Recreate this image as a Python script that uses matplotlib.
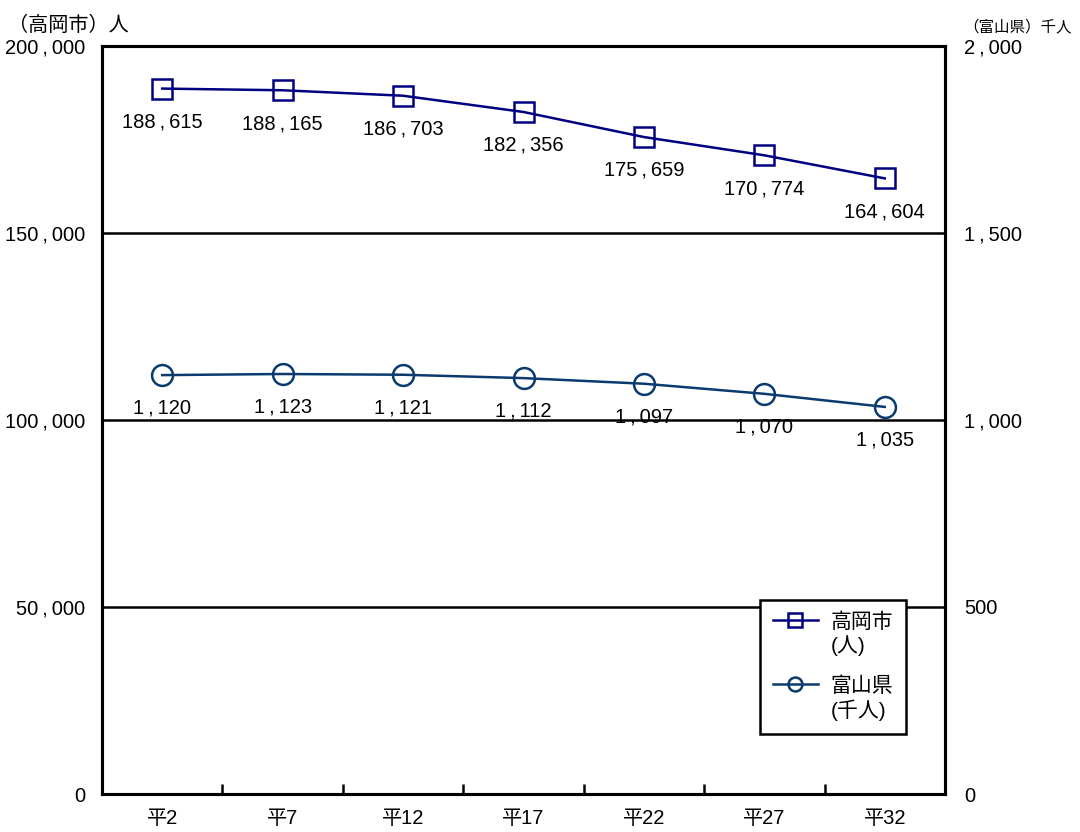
import matplotlib
matplotlib.use("Agg")
import matplotlib.pyplot as plt
from matplotlib.legend_handler import HandlerLine2D
import numpy as np

categories = ["平2", "平7", "平12", "平17", "平22", "平27", "平32"]
takaoka = [188615, 188165, 186703, 182356, 175659, 170774, 164604]
toyama = [1120, 1123, 1121, 1112, 1097, 1070, 1035]
left_ticks = [0, 50000, 100000, 150000, 200000]
right_ticks = [0, 500, 1000, 1500, 2000]

FONT = ['Liberation Sans', 'Noto Sans CJK JP', 'DejaVu Sans']
plt.rcParams['font.family'] = FONT

C1 = '#000080'
C2 = '#0a3a6e'
FS = 14.5

def fmt(v):
    return f"{v:,}".replace(",", "\u2009,\u2009")

fig = plt.figure(figsize=(10.8, 8.32), dpi=100)
ax = fig.add_axes([102/1080, 1-794/832, (945-102)/1080, (794-46)/832])
ax2 = ax.twinx()

x = np.arange(len(categories))
ax.set_xlim(-0.5, len(categories) - 0.5)
ax.set_ylim(0, 200000)
ax2.set_ylim(0, 2000)

for y in left_ticks[1:-1]:
    ax.axhline(y, color='black', lw=1.8, zorder=1)

l1, = ax.plot(x, takaoka, color=C1, lw=1.8, marker='s', ms=14, mfc='none',
              mec=C1, mew=1.8, zorder=3, label="高岡市\n(人)")
l2, = ax2.plot(x, toyama, color=C2, lw=1.8, marker='o', ms=15, mfc='none',
               mec=C2, mew=1.8, zorder=3, label="富山県\n(千人)")

for xi, v in zip(x, takaoka):
    ax.annotate(fmt(v), (xi, v), xytext=(0, -24), textcoords='offset points',
                ha='center', va='center', fontsize=FS)
for xi, v in zip(x, toyama):
    ax2.annotate(fmt(v), (xi, v), xytext=(0, -24), textcoords='offset points',
                 ha='center', va='center', fontsize=FS)

ax.set_yticks(left_ticks)
ax.set_yticklabels([fmt(v) for v in left_ticks], fontsize=FS)
ax2.set_yticks(right_ticks)
ax2.set_yticklabels([fmt(v) for v in right_ticks], fontsize=FS)
ax.tick_params(axis='y', length=0, pad=12)
ax2.tick_params(axis='y', length=0, pad=14)

ax.set_xticks(x)
ax.set_xticklabels(categories, fontsize=FS)
ax.set_xticks(np.arange(0.5, len(categories) - 1, 1), minor=True)
ax.tick_params(axis='x', which='major', length=0, pad=11)
ax.tick_params(axis='x', which='minor', length=7, width=1.8, direction='in')

for a in (ax, ax2):
    for s in a.spines.values():
        s.set_linewidth(2.2)
        s.set_color('black')

fig.text(8/1080, 1-25/832, "（高岡市）人", fontsize=14.5, ha='left', va='center')
fig.text(963/1080, 1-27/832, "（富山県）千人", fontsize=11.2, ha='left', va='center')

LSP = 1.2


class TopHandler(HandlerLine2D):
    def create_artists(self, legend, orig_handle, xdescent, ydescent, width,
                       height, fontsize, trans):
        arts = super().create_artists(legend, orig_handle, xdescent, ydescent,
                                      width, height, fontsize, trans)
        for a in arts:
            a.set_ydata([yy + 0.6 * LSP * fontsize for yy in a.get_ydata()])
        return arts


leg = ax2.legend(handles=[l1, l2], loc='upper left',
                 bbox_to_anchor=((760-102)/843, 1-(600-46)/748),
                 fontsize=15, frameon=True, fancybox=False, edgecolor='black',
                 framealpha=1, handlelength=2.2, handletextpad=0.6,
                 labelspacing=1.0, borderpad=0.6, borderaxespad=0,
                 handler_map={l1: TopHandler(numpoints=1), l2: TopHandler(numpoints=1)})
leg.get_frame().set_linewidth(1.8)
for t in leg.get_texts():
    t.set_linespacing(LSP)
for h in leg.legend_handles:
    h.set_markersize(10)
leg.set_zorder(10)

fig.savefig("out.png", dpi=100)
